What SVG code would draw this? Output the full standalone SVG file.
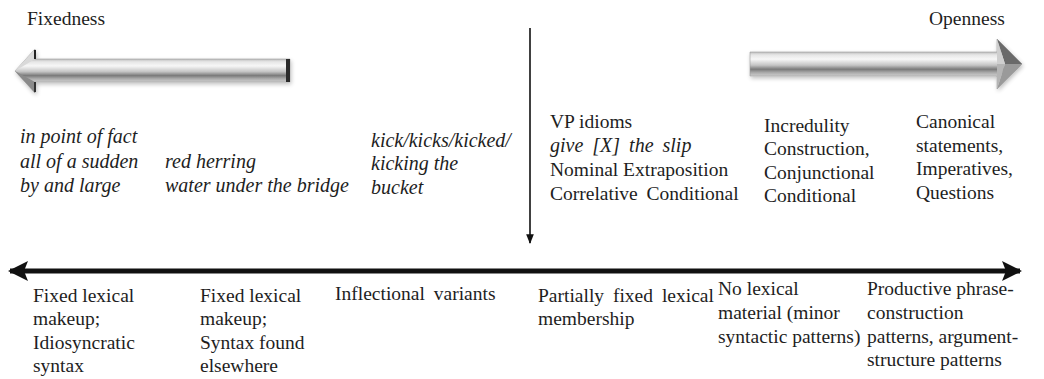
<svg xmlns="http://www.w3.org/2000/svg" width="1044" height="379" viewBox="0 0 1044 379">
<defs>
<linearGradient id="gShaftL" x1="0" y1="59" x2="0" y2="82" gradientUnits="userSpaceOnUse">
<stop offset="0" stop-color="#bdbdbd"/><stop offset="0.12" stop-color="#e6e6e6"/><stop offset="0.3" stop-color="#f7f7f7"/><stop offset="0.55" stop-color="#c4c4c4"/><stop offset="0.72" stop-color="#7a7a7a"/><stop offset="0.85" stop-color="#a8a8a8"/><stop offset="1" stop-color="#cfcfcf"/>
</linearGradient>
<linearGradient id="gShaftR" x1="0" y1="52" x2="0" y2="76" gradientUnits="userSpaceOnUse">
<stop offset="0" stop-color="#bdbdbd"/><stop offset="0.12" stop-color="#e6e6e6"/><stop offset="0.3" stop-color="#f7f7f7"/><stop offset="0.55" stop-color="#c4c4c4"/><stop offset="0.72" stop-color="#7a7a7a"/><stop offset="0.85" stop-color="#a8a8a8"/><stop offset="1" stop-color="#cfcfcf"/>
</linearGradient>
<filter id="shadow" x="-5%" y="-30%" width="110%" height="160%">
<feGaussianBlur in="SourceAlpha" stdDeviation="2"/><feOffset dx="1" dy="2"/>
<feComponentTransfer><feFuncA type="linear" slope="0.25"/></feComponentTransfer>
<feMerge><feMergeNode/><feMergeNode in="SourceGraphic"/></feMerge>
</filter>
<marker id="ah" viewBox="0 0 10 10" refX="9" refY="5" markerWidth="4" markerHeight="4" orient="auto-start-reverse" markerUnits="strokeWidth">
<path d="M0,0 L10,5 L0,10 L2,5 z" fill="#111"/>
</marker>
<marker id="vh" viewBox="0 0 10 10" refX="9" refY="5" markerWidth="6" markerHeight="6" orient="auto" markerUnits="strokeWidth">
<path d="M0,1 L10,5 L0,9 z" fill="#111"/>
</marker>
</defs>
<style>
.t{font-family:'Liberation Serif','DejaVu Serif','Times New Roman',serif;font-size:19.5px;fill:#1e1e1e}
.it{font-style:italic;font-size:20px}
</style>
<g id="fixedness-arrow" filter="url(#shadow)">
<polygon points="15,71 35,49 35,59 290,59 290,82 35,82 35,93" fill="url(#gShaftL)" stroke="#9a9a9a" stroke-width="0.6"/>
<polygon points="15,71 35,49 35,59" fill="#d9d9d9"/>
<polygon points="15,71 35,93 35,82" fill="#8a8a8a"/>
<line x1="35" y1="50" x2="35" y2="59" stroke="#222" stroke-width="2"/>
<line x1="35" y1="82" x2="35" y2="92" stroke="#333" stroke-width="2"/>
<rect x="286" y="59" width="4" height="23" fill="#2a2a2a"/>
</g>
<g id="openness-arrow" filter="url(#shadow)">
<polygon points="750,52 997,52 997,39 1022,64 997,89 997,76 750,76" fill="url(#gShaftR)" stroke="#9a9a9a" stroke-width="0.6"/>
<polygon points="997,39 1022,64 1005,64" fill="#6a6a6a"/>
<polygon points="997,89 1022,64 1005,64" fill="#9a9a9a"/>
<polygon points="997,39 1005,64 997,64" fill="#cfcfcf"/>
<polygon points="997,89 1005,64 997,64" fill="#b5b5b5"/>
</g>
<g id="connectors">
<line x1="10" y1="271" x2="1020" y2="271" stroke="#111" stroke-width="5" marker-start="url(#ah)" marker-end="url(#ah)"/>
<line x1="530" y1="28" x2="530" y2="243" stroke="#111" stroke-width="1.6" marker-end="url(#vh)"/>
</g>
<g class="t" font-family="'Liberation Serif','DejaVu Serif',serif">
<g id="label-fixedness"><text class="t" x="27" y="25">Fixedness</text></g>
<g id="label-openness"><text class="t" x="929" y="25">Openness</text></g>
<g id="examples-fixed">
<text class="t it" x="20" y="143">in point of fact</text>
<text class="t it" x="20" y="168">all of a sudden</text>
<text class="t it" x="20" y="192">by and large</text>
</g>
<g id="examples-herring">
<text class="t it" x="165" y="168">red herring</text>
<text class="t it" x="165" y="192">water under the bridge</text>
</g>
<g id="examples-kick">
<text class="t it" x="371" y="147">kick/kicks/kicked/</text>
<text class="t it" x="371" y="170">kicking the</text>
<text class="t it" x="371" y="194">bucket</text>
</g>
<g id="examples-vp">
<text class="t" x="550" y="128">VP idioms</text>
<text class="t it" x="550" y="152" word-spacing="4">give [X] the slip</text>
<text class="t" x="550" y="176">Nominal Extraposition</text>
<text class="t" x="550" y="200" word-spacing="4">Correlative Conditional</text>
</g>
<g id="examples-incredulity">
<text class="t" x="764" y="132">Incredulity</text>
<text class="t" x="764" y="155">Construction,</text>
<text class="t" x="764" y="179">Conjunctional</text>
<text class="t" x="764" y="202">Conditional</text>
</g>
<g id="examples-canonical">
<text class="t" x="916" y="128">Canonical</text>
<text class="t" x="916" y="152">statements,</text>
<text class="t" x="916" y="175">Imperatives,</text>
<text class="t" x="916" y="199">Questions</text>
</g>
<g id="type-fixed">
<text class="t" x="33" y="302">Fixed lexical</text>
<text class="t" x="33" y="325">makeup;</text>
<text class="t" x="33" y="349">Idiosyncratic</text>
<text class="t" x="33" y="372">syntax</text>
</g>
<g id="type-fixed-syntax">
<text class="t" x="200" y="302">Fixed lexical</text>
<text class="t" x="200" y="325">makeup;</text>
<text class="t" x="200" y="349">Syntax found</text>
<text class="t" x="200" y="372">elsewhere</text>
</g>
<g id="type-inflectional">
<text class="t" x="335" y="300" word-spacing="4">Inflectional variants</text>
</g>
<g id="type-partial">
<text class="t" x="538" y="302" word-spacing="4">Partially fixed lexical</text>
<text class="t" x="538" y="325">membership</text>
</g>
<g id="type-nolexical">
<text class="t" x="718" y="295">No lexical</text>
<text class="t" x="718" y="319">material (minor</text>
<text class="t" x="718" y="343">syntactic patterns)</text>
</g>
<g id="type-productive">
<text class="t" x="867" y="295">Productive phrase-</text>
<text class="t" x="867" y="319">construction</text>
<text class="t" x="867" y="343">patterns, argument-</text>
<text class="t" x="867" y="366">structure patterns</text>
</g>
</g>
</svg>
